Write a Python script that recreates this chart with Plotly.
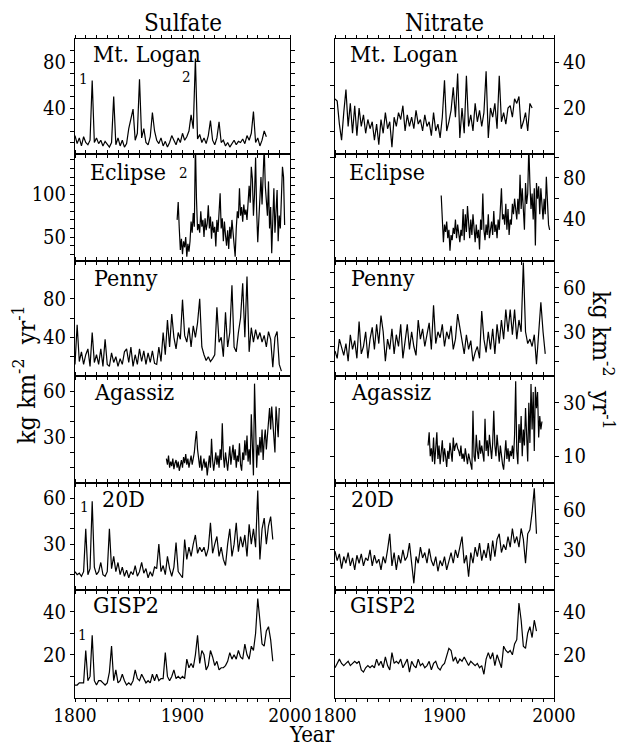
import plotly.graph_objects as go

# ---------------- DATA (kg km-2 yr-1) ----------------
# Sulfate
logan_so4_start, logan_so4_step = 1800, 2
logan_so4 = [16, 9, 14, 7, 15, 10, 8, 12, 64, 10,
             14, 9, 12, 7, 11, 8, 6, 10, 50, 8,
             14, 7, 12, 6, 9, 22, 30, 39, 12, 18,
             65, 14, 22, 10, 8, 15, 36, 20, 12, 9,
             14, 7, 11, 6, 10, 16, 12, 8, 14, 10,
             18, 12, 15, 20, 34, 22, 83, 13, 17, 10,
             14, 9, 16, 29, 12, 8, 14, 28, 10, 12,
             7, 10, 6, 9, 12, 8, 11, 10, 13, 9,
             16, 12, 18, 37, 10, 14, 7, 12, 20, 15]

eclipse_so4_start, eclipse_so4_step = 1895, 1
eclipse_so4 = [70, 91, 60, 35, 48, 30, 45, 38, 50, 27,
               42, 33, 45, 68, 55, 78, 62, 160, 95, 58,
               65, 55, 80, 62, 70, 50, 72, 58, 66, 87,
               60, 74, 48, 68, 55, 62, 39, 70, 56, 78,
               101, 60, 72, 45, 68, 52, 40, 58, 36, 62,
               48, 70, 55, 44, 27, 60, 80, 72, 107, 75,
               85, 68, 88, 76, 82, 70, 95, 110, 90, 132,
               118, 75, 100, 143, 80, 44, 70, 95, 120, 88,
               130, 155, 110, 97, 75, 115, 60, 85, 31, 70,
               107, 55, 80, 105, 45, 75, 60, 90, 132, 120, 64]

penny_so4_start, penny_so4_step = 1800, 2
penny_so4 = [12, 53, 15, 25, 12, 22, 28, 10, 45, 14,
             22, 12, 28, 10, 38, 12, 10, 24, 14, 20,
             10, 18, 12, 25, 28, 14, 30, 10, 22, 12,
             28, 15, 26, 12, 24, 14, 26, 13, 12, 30,
             15, 45, 22, 58, 30, 64, 40, 28, 45, 38,
             79, 42, 35, 50, 30, 52, 40, 55, 80, 30,
             22, 16, 20, 15, 18, 22, 71, 35, 40, 20,
             66, 30, 45, 94, 30, 25, 45, 60, 96, 40,
             103, 25, 50, 35, 48, 38, 45, 35, 42, 30,
             46, 38, 9, 40, 46, 12, 5]

agassiz_so4_start, agassiz_so4_step = 1885, 1
agassiz_so4 = [16, 12, 18, 10, 14, 11, 16, 9, 13, 15,
               10, 14, 8, 12, 15, 10, 17, 13, 19, 12,
               16, 10, 14, 18, 12, 15, 20, 28, 34, 22,
               14, 10, 18, 8, 12, 16, 10, 14, 5, 12,
               18, 10, 29, 15, 8, 14, 20, 12, 18, 10,
               22, 15, 39, 18, 10, 20, 14, 8, 16, 24,
               12, 20, 25, 15, 22, 10, 18, 14, 26, 12,
               8, 20, 15, 28, 18, 31, 14, 22, 12, 45,
               15, 5, 65, 30, 10, 25, 18, 30, 20, 35,
               15, 28, 35, 22, 30, 40, 49, 35, 50, 40,
               25, 20, 50, 42, 30, 49]

d20_so4_start, d20_so4_step = 1800, 2
d20_so4 = [12, 10, 11, 9, 12, 40, 10, 14, 58, 15,
           10, 12, 18, 10, 9, 12, 40, 14, 22, 12,
           18, 10, 15, 9, 13, 8, 12, 10, 16, 9,
           12, 18, 11, 14, 8, 12, 9, 15, 14, 30,
           12, 16, 10, 22, 14, 9, 15, 31, 12, 10,
           8, 33, 20, 28, 22, 30, 36, 24, 28, 25,
           28, 22, 27, 44, 24, 30, 35, 22, 28, 20,
           16, 30, 40, 22, 30, 44, 25, 35, 28, 36,
           22, 43, 30, 40, 28, 65, 20, 40, 47, 30,
           42, 48, 33]

gisp2_so4_start, gisp2_so4_step = 1800, 2
gisp2_so4 = [6, 6, 7, 7, 7, 22, 8, 10, 29, 8,
             6, 8, 8, 7, 6, 7, 12, 24, 8, 13,
             7, 8, 11, 8, 6, 7, 6, 8, 13, 9,
             8, 11, 9, 7, 8, 7, 11, 8, 11, 8,
             9, 9, 21, 10, 8, 10, 13, 9, 10, 9,
             10, 9, 18, 14, 16, 14, 20, 29, 16, 22,
             20, 13, 15, 22, 19, 15, 17, 13, 14, 14,
             15, 17, 21, 18, 20, 18, 22, 19, 18, 25,
             20, 18, 24, 22, 30, 46, 36, 25, 24, 31,
             33, 27, 17]

# Nitrate
logan_no3_start, logan_no3_step = 1800, 2
logan_no3 = [24, 23, 13, 6, 18, 28, 12, 22, 9, 21,
             8, 20, 12, 17, 9, 15, 11, 14, 6, 13,
             4, 15, 9, 18, 11, 14, 3, 16, 12, 18,
             15, 21, 10, 17, 12, 16, 11, 19, 13, 15,
             10, 17, 12, 14, 8, 18, 10, 13, 7, 16,
             32, 10, 14, 19, 29, 16, 35, 7, 20, 9,
             34, 12, 17, 10, 22, 14, 19, 12, 18, 36,
             7, 20, 16, 22, 11, 34, 14, 18, 13, 20,
             21, 16, 24, 22, 25, 11, 14, 18, 10, 22,
             20]

eclipse_no3_start, eclipse_no3_step = 1897, 1
eclipse_no3 = [63, 40, 18, 35, 28, 38, 22, 30, 10, 25,
               20, 32, 26, 40, 22, 35, 28, 18, 30, 24,
               50, 20, 45, 28, 53, 30, 22, 40, 25, 45,
               28, 18, 35, 22, 30, 11, 40, 30, 65, 30,
               20, 35, 25, 45, 22, 30, 38, 25, 48, 28,
               35, 22, 40, 30, 45, 70, 40, 45, 35, 55,
               30, 50, 25, 40, 35, 55, 45, 60, 50, 40,
               60, 45, 83, 50, 70, 40, 30, 75, 55, 65,
               110, 75, 50, 65, 40, 70, 15, 75, 60, 72,
               45, 70, 55, 40, 60, 45, 81, 50, 35, 30]

penny_no3_start, penny_no3_step = 1800, 2
penny_no3 = [17, 12, 25, 20, 14, 22, 10, 28, 18, 24,
             12, 37, 15, 20, 30, 12, 25, 33, 18, 35,
             22, 41, 30, 10, 25, 18, 32, 15, 28, 20,
             35, 12, 22, 35, 18, 30, 20, 14, 38, 25,
             32, 20, 28, 36, 18, 48, 22, 30, 26, 35,
             20, 30, 25, 34, 18, 25, 42, 32, 25, 15,
             28, 18, 24, 10, 16, 20, 12, 44, 25, 16,
             30, 18, 32, 15, 35, 22, 38, 25, 45, 30,
             45, 28, 45, 25, 38, 30, 77, 30, 22, 25,
             20, 28, 8, 30, 50, 30, 15]

agassiz_no3_start, agassiz_no3_step = 1885, 1
agassiz_no3 = [14, 19, 10, 13, 8, 17, 7, 12, 19, 9,
               14, 7, 11, 16, 8, 13, 10, 6, 12, 9,
               15, 11, 8, 17, 12, 14, 15, 13, 12, 10,
               14, 9, 11, 8, 13, 10, 7, 11, 9, 6,
               5, 27, 10, 8, 18, 12, 9, 16, 11, 14,
               10, 8, 24, 12, 16, 10, 18, 13, 9, 15,
               27, 14, 10, 18, 12, 8, 14, 10, 7, 5,
               12, 16, 9, 13, 8, 12, 10, 14, 9, 18,
               38, 12, 7, 22, 15, 25, 10, 20, 14, 28,
               18, 8, 30, 15, 37, 20, 34, 12, 36, 28,
               34, 17, 25, 20, 23]

d20_no3_start, d20_no3_step = 1800, 2
d20_no3 = [29, 22, 27, 16, 25, 20, 28, 18, 24, 15,
           26, 20, 27, 18, 24, 22, 30, 18, 26, 20,
           23, 15, 25, 20, 30, 42, 18, 28, 15, 26,
           20, 30, 22, 25, 35, 18, 5, 25, 20, 32,
           24, 28, 20, 31, 22, 18, 25, 14, 22, 18,
           25, 15, 22, 28, 20, 30, 24, 32, 40, 20,
           26, 10, 28, 20, 32, 25, 35, 22, 30, 24,
           35, 22, 37, 25, 38, 42, 28, 34, 30, 40,
           32, 46, 35, 40, 32, 46, 38, 20, 42, 45,
           58, 76, 42]

gisp2_no3_start, gisp2_no3_step = 1800, 2
gisp2_no3 = [14, 16, 18, 16, 15, 16, 17, 15, 16, 17,
             16, 17, 13, 12, 14, 15, 14, 15, 14, 18,
             15, 17, 14, 19, 15, 13, 21, 16, 17, 16,
             18, 14, 16, 18, 12, 17, 15, 14, 18, 15,
             16, 14, 15, 17, 13, 16, 17, 14, 13, 15,
             16, 19, 23, 22, 17, 19, 16, 18, 17, 19,
             17, 15, 17, 16, 15, 16, 14, 15, 11, 18,
             21, 18, 21, 15, 20, 17, 14, 24, 22, 21,
             22, 20, 25, 27, 44, 36, 24, 23, 30, 33,
             28, 36, 31]

site_names = ["Mt. Logan", "Eclipse", "Penny", "Agassiz", "20D", "GISP2"]
column_titles = ["Sulfate", "Nitrate"]
x_tick_labels = [1800, 1900, 2000]

sulfate_series = [(logan_so4_start, logan_so4_step, logan_so4),
                  (eclipse_so4_start, eclipse_so4_step, eclipse_so4),
                  (penny_so4_start, penny_so4_step, penny_so4),
                  (agassiz_so4_start, agassiz_so4_step, agassiz_so4),
                  (d20_so4_start, d20_so4_step, d20_so4),
                  (gisp2_so4_start, gisp2_so4_step, gisp2_so4)]
nitrate_series = [(logan_no3_start, logan_no3_step, logan_no3),
                  (eclipse_no3_start, eclipse_no3_step, eclipse_no3),
                  (penny_no3_start, penny_no3_step, penny_no3),
                  (agassiz_no3_start, agassiz_no3_step, agassiz_no3),
                  (d20_no3_start, d20_no3_step, d20_no3),
                  (gisp2_no3_start, gisp2_no3_step, gisp2_no3)]

# axis ranges, labelled ticks, tick spacing
sulfate_ranges = [[0, 100], [22, 147], [0, 119], [0, 70], [0, 70], [0, 50]]
sulfate_ticks = [[40, 80], [50, 100], [40, 80], [30, 60], [30, 60], [20, 40]]
sulfate_minor = [10, 10, 20, 10, 10, 10]
nitrate_ranges = [[0, 50], [0, 103], [0, 78], [0, 40], [0, 80], [0, 50]]
nitrate_ticks = [[20, 40], [40, 80], [30, 60], [10, 30], [30, 60], [20, 40]]
nitrate_minor = [10, 20, 10, 10, 10, 10]

# ---------------- LAYOUT ----------------
W, H = 618, 747
FONT = "DejaVu Serif Condensed, Liberation Serif, DejaVu Serif, serif"
col_px = [(75, 290), (335, 554)]
row_px = [39, 154, 261, 376, 483, 590, 698]
label_x = [[0.074, 0.06, 0.08, 0.08, 0.116, 0.074],
           [0.06, 0.055, 0.064, 0.064, 0.064, 0.06]]
label_y = [0.87, 0.83, 0.85, 0.85, 0.85, 0.86]

fig = go.Figure()
layout = {}
annotations = []


def ax_name(n, kind):
    return kind if n == 1 else f"{kind}{n}"


n = 0
for c in range(2):
    series = sulfate_series if c == 0 else nitrate_series
    ranges = sulfate_ranges if c == 0 else nitrate_ranges
    ticks = sulfate_ticks if c == 0 else nitrate_ticks
    minors = sulfate_minor if c == 0 else nitrate_minor
    for r in range(6):
        n += 1
        start, step, vals = series[r]
        years = [start + step * i for i in range(len(vals))]
        xr = "x" if n == 1 else f"x{n}"
        yr = "y" if n == 1 else f"y{n}"
        fig.add_trace(go.Scatter(x=years, y=vals, mode="lines",
                                 line=dict(color="black", width=1.2),
                                 xaxis=xr, yaxis=yr, showlegend=False,
                                 hoverinfo="skip"))
        xd = [col_px[c][0] / W, col_px[c][1] / W]
        yd = [1 - row_px[r + 1] / H, 1 - row_px[r] / H]
        bottom = (r == 5)
        xtv = list(range(1800, 2001, 10))
        xtt = [str(v) if (bottom and v in x_tick_labels) else "" for v in xtv]
        layout[ax_name(n, "xaxis")] = dict(
            domain=xd, range=[1800, 2000], anchor=yr, automargin=False,
            showline=True, linecolor="black", linewidth=1, mirror="ticks",
            ticks="outside", tickmode="array", tickvals=xtv, ticktext=xtt,
            ticklen=3, tickcolor="black", tickwidth=1,
            ticklabelstandoff=-3,
            showticklabels=bottom, showgrid=False, zeroline=False,
            tickfont=dict(family=FONT, size=19, color="black"),
        )
        lo, hi = ranges[r]
        d = minors[r]
        ytv = [v for v in range(0, int(hi) + 1, d) if lo < v < hi]
        ytt = [str(v) if v in ticks[r] else "" for v in ytv]
        layout[ax_name(n, "yaxis")] = dict(
            domain=yd, range=ranges[r], anchor=xr, automargin=False,
            side="left" if c == 0 else "right",
            showline=True, linecolor="black", linewidth=1, mirror="ticks",
            ticks="outside", tickmode="array", tickvals=ytv, ticktext=ytt,
            ticklen=4, tickcolor="black", tickwidth=1,
            showgrid=False, zeroline=False,
            tickfont=dict(family=FONT, size=20, color="black"),
        )
        # panel name
        annotations.append(dict(
            text=site_names[r], xref=f"{xr} domain", yref=f"{yr} domain",
            x=label_x[c][r], y=label_y[r],
            xanchor="left", yanchor="middle", showarrow=False,
            font=dict(family=FONT, size=23, color="black")))

# small event numbers (1 = 1815 Tambora, 2 = 1912 Katmai)
marks = [("1", 1, 1808, 0.65), ("2", 1, 1904, 0.67), ("2", 2, 1901, 0.82),
         ("1", 5, 1809, 0.78), ("1", 6, 1807, 0.58)]
for txt, nn, xv, yv in marks:
    annotations.append(dict(
        text=txt, x=xv, xref="x" if nn == 1 else f"x{nn}",
        y=yv, yref=f"{'y' if nn == 1 else 'y' + str(nn)} domain",
        showarrow=False, xanchor="center", yanchor="middle",
        font=dict(family=FONT, size=15, color="black")))

# column titles
for c, t in enumerate(column_titles):
    annotations.append(dict(
        text=t, xref="paper", yref="paper",
        x=(col_px[c][0] + col_px[c][1]) / 2 / W, y=1 - 23 / H,
        xanchor="center", yanchor="middle", showarrow=False,
        font=dict(family=FONT, size=24, color="black")))

annotations.append(dict(text="Year", xref="paper", yref="paper",
                        x=312 / W, y=1 - 734 / H, xanchor="center",
                        yanchor="middle", showarrow=False,
                        font=dict(family=FONT, size=22, color="black")))
ylab = "kg km<sup>-2</sup>  yr<sup>-1</sup>"
annotations.append(dict(text=ylab, xref="paper", yref="paper",
                        x=24 / W, y=1 - 375 / H, textangle=-90,
                        xanchor="center", yanchor="middle", showarrow=False,
                        font=dict(family=FONT, size=25, color="black")))
annotations.append(dict(text=ylab, xref="paper", yref="paper",
                        x=603 / W, y=1 - 360 / H, textangle=90,
                        xanchor="center", yanchor="middle", showarrow=False,
                        font=dict(family=FONT, size=25, color="black")))

fig.update_layout(**layout)
fig.update_layout(width=W, height=H,
                  margin=dict(l=0, r=0, t=0, b=0, pad=0, autoexpand=False),
                  paper_bgcolor="white", plot_bgcolor="white",
                  annotations=annotations, showlegend=False,
                  font=dict(family=FONT, color="black"))

fig.write_html("out.html")
